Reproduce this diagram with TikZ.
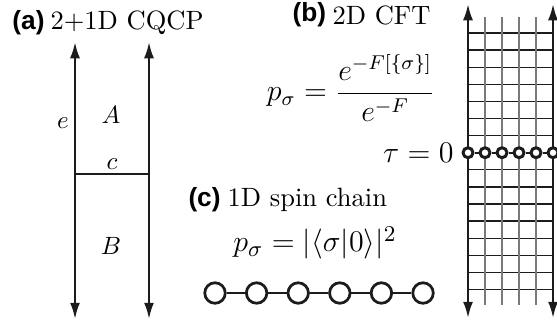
\documentclass[tikz,border=0pt]{standalone}
\usepackage{fontspec}
\newfontfamily\panelfont{Liberation Sans}
\usetikzlibrary{arrows.meta, positioning}
\definecolor{ink}{HTML}{1C1C1C}
\definecolor{inkl}{HTML}{7A7A7A}
\tikzset{el/.style={line cap=butt, line join=round},
  wire/.style={ink, line width=0.9pt, {Latex[length=6.5pt,width=4pt]}-{Latex[length=6.5pt,width=4pt]}},
  rung/.style={ink, line width=0.7pt},
  tag/.style={font=\panelfont\bfseries\fontsize{10.5}{13}\selectfont, inner sep=0pt, anchor=west},
  ttl/.style={font=\fontsize{10.6}{13}\selectfont, inner sep=0pt, anchor=west},
  site/.style={circle, draw=ink, fill=white, line width=1.1pt, inner sep=0pt, minimum size=8.2pt},
  dot/.style={circle, draw=ink, fill=white, line width=1.2pt, inner sep=0pt, minimum size=4pt}}

\begin{document}
\begin{tikzpicture}[el, x=0.4pt, y=-0.4pt]
  \useasboundingbox (0,0) rectangle (557,321);
  % (a)
  \node[tag] (la) at (12,23) {(a)};
  \node[ttl] (ta) at (50,23) {2+1D CQCP};
  \coordinate (a1) at (75,42); \coordinate (a2) at (75,319);
  \coordinate (a3) at (149,42); \coordinate (a4) at (149,319);
  \coordinate (c1) at (75,174); \coordinate (c2) at (149,174);
  \draw[wire] (a1)--(a2); \draw[wire] (a3)--(a4);
  \draw[rung] (c1)--(c2);
  \node (le) at (63,123) {$e$};
  \node (lA) at (111,115) {$A$};
  \node (lc) at (112,164) {$c$};
  \node (lB) at (111,246) {$B$};
  % (b)
  \node[tag] (lb) at (292,15) {(b)};
  \node[ttl] (tb) at (332,15) {2D CFT};
  \node (eqb) at (351,88) {\fontsize{12}{14}\selectfont$\displaystyle p_\sigma=\frac{e^{-F[\{\sigma\}]}}{e^{-F}}$};
  \foreach \k in {0,...,6,8,9,...,15}{\draw[ink, line width=0.5pt] (468,{33+17.1*\k})--(553,{33+17.1*\k});}
  \foreach \gx in {485,502,519,536}{\draw[inkl, line width=0.7pt] (\gx,17)--(\gx,305);}
  \coordinate (b1) at (468,4); \coordinate (b2) at (468,318);
  \coordinate (b3) at (553,4); \coordinate (b4) at (553,318);
  \draw[wire] (b1)--(b2); \draw[wire] (b3)--(b4);
  \foreach \i in {0,...,5}{\node[dot] (t\i) at ({468+17*\i},152.7) {};}
  \foreach \i [count=\j] in {0,...,4}{\draw[ink, line width=0.7pt] (t\i)--(t\j);}
  \node[left=3pt of t0, font=\fontsize{11.5}{13}\selectfont, inner sep=0pt] (tau) {$\tau=0$};
  % (c)
  \node[tag] (lcc) at (188,200) {(c)};
  \node[ttl] (tc) at (227,200) {1D spin chain};
  \node (eqc) at (315,243) {\fontsize{13}{15}\selectfont$p_\sigma=|\langle\sigma|0\rangle|^2$};
  \foreach \i in {0,...,5}{\node[site] (s\i) at ({215+41.6*\i},293) {};}
  \foreach \i [count=\j] in {0,...,4}{\draw[ink, line width=0.7pt] (s\i)--(s\j);}
\end{tikzpicture}
\end{document}
